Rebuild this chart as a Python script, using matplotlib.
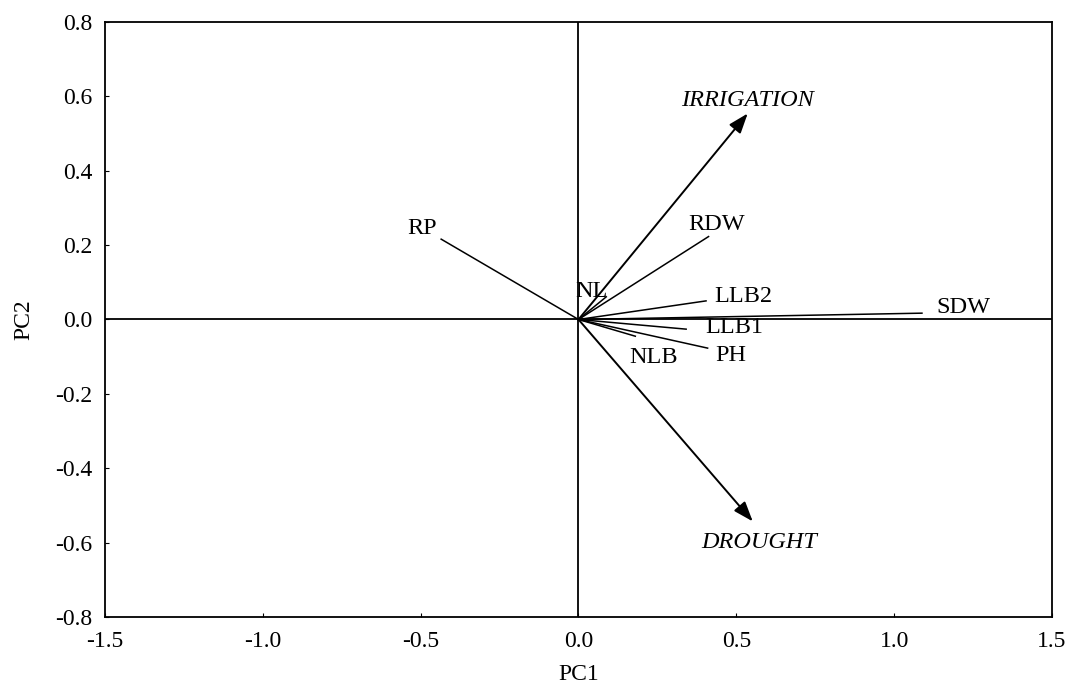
import matplotlib.pyplot as plt

# variable loadings (PC1, PC2)
variables = ['RP', 'RDW', 'NL', 'LLB2', 'SDW', 'LLB1', 'PH', 'NLB']
pc1 = [-0.435, 0.412, 0.088, 0.404, 1.088, 0.341, 0.409, 0.18]
pc2 = [0.216, 0.223, 0.061, 0.050, 0.017, -0.026, -0.077, -0.045]

# supplementary treatment vectors
treatments = ['IRRIGATION', 'DROUGHT']
treat_pc1 = [0.536, 0.552]
treat_pc2 = [0.554, -0.543]

# label offsets in points
var_offsets = {'RP': (-14, 8), 'RDW': (6, 8.5), 'NL': (-11, 3.5), 'LLB2': (27, 3.5),
               'SDW': (30, 4), 'LLB1': (35, 1), 'PH': (17, -5.5), 'NLB': (13, -15)}
treat_offsets = {'IRRIGATION': (0, 9.5), 'DROUGHT': (5, -15)}

plt.rcParams['font.family'] = ['Liberation Serif', 'DejaVu Serif']

fig = plt.figure(figsize=(10.7, 6.85), dpi=100)
ax = fig.add_axes([0.0981, 0.0993, 0.8851, 0.8686])

ax.axhline(0, color='black', lw=1.3)
ax.axvline(0, color='black', lw=1.3)

for name, x, y in zip(variables, pc1, pc2):
    ax.plot([0, x], [0, y], color='black', lw=1.1)
    ax.annotate(name, (x, y), xytext=var_offsets[name], textcoords='offset points',
                ha='center', va='center', fontsize=17.5)

for name, x, y in zip(treatments, treat_pc1, treat_pc2):
    ax.annotate('', xy=(x, y), xytext=(0, 0),
                arrowprops=dict(arrowstyle='-|>,head_length=0.55,head_width=0.2',
                                color='black', lw=1.4,
                                mutation_scale=22, shrinkA=0, shrinkB=0))
    ax.annotate(name, (x, y), xytext=treat_offsets[name], textcoords='offset points',
                ha='center', va='center', fontsize=17.5, style='italic')

ax.set_xlim(-1.5, 1.5)
ax.set_ylim(-0.8, 0.8)
ax.set_xticks([-1.5, -1.0, -0.5, 0.0, 0.5, 1.0, 1.5])
ax.set_yticks([-0.8, -0.6, -0.4, -0.2, 0.0, 0.2, 0.4, 0.6, 0.8])
ax.xaxis.set_major_formatter(plt.FormatStrFormatter('%.1f'))
ax.yaxis.set_major_formatter(plt.FormatStrFormatter('%.1f'))
ax.tick_params(direction='in', length=3, labelsize=17)
ax.tick_params(axis='x', pad=10)
ax.tick_params(axis='y', pad=9)
for s in ax.spines.values():
    s.set_linewidth(1.3)

ax.set_xlabel('PC1', fontsize=17, labelpad=9)
ax.set_ylabel('PC2', fontsize=17, labelpad=15)

fig.savefig('out.png', dpi=100)
